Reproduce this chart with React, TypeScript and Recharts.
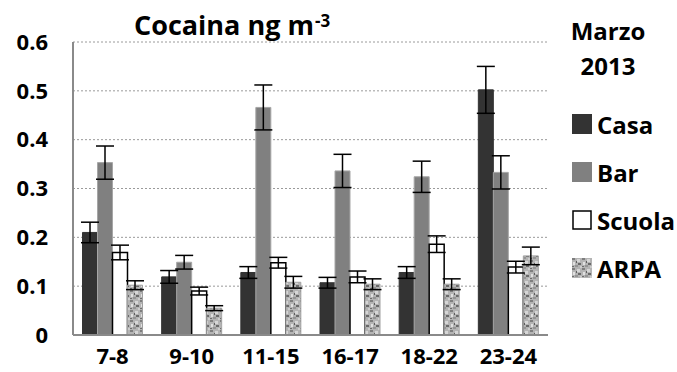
import React from 'react';
import { BarChart, Bar, XAxis, YAxis, CartesianGrid, ErrorBar } from 'recharts';

const categories = ['7-8', '9-10', '11-15', '16-17', '18-22', '23-24'];

const casa = [0.21, 0.119, 0.128, 0.107, 0.128, 0.502];
const casaErr = [0.021, 0.013, 0.012, 0.011, 0.012, 0.048];
const barValues = [0.353, 0.149, 0.466, 0.336, 0.324, 0.333];
const barErr = [0.034, 0.014, 0.046, 0.034, 0.032, 0.034];
const scuola = [0.169, 0.09, 0.148, 0.119, 0.186, 0.139];
const scuolaErr = [0.015, 0.008, 0.011, 0.012, 0.017, 0.012];
const arpa = [0.102, 0.055, 0.108, 0.104, 0.104, 0.162];
const arpaErr = [0.009, 0.005, 0.012, 0.011, 0.011, 0.018];

const yTicks = [0, 0.1, 0.2, 0.3, 0.4, 0.5, 0.6];

const data = categories.map((name, i) => ({
  name,
  casa: casa[i],
  casaErr: casaErr[i],
  bar: barValues[i],
  barErr: barErr[i],
  scuola: scuola[i],
  scuolaErr: scuolaErr[i],
  arpa: arpa[i],
  arpaErr: arpaErr[i],
}));

const series = [
  { key: 'casa', label: 'Casa', fill: '#333333', stroke: '#333333' },
  { key: 'bar', label: 'Bar', fill: '#808080', stroke: '#a6a6a6' },
  { key: 'scuola', label: 'Scuola', fill: '#ffffff', stroke: '#000000' },
  { key: 'arpa', label: 'ARPA', fill: 'url(#arpaTexture)', stroke: '#a0a0a0' },
];

const font = '"Open Sans", Lato, sans-serif';

// marble-ish gray texture for the ARPA bars
const TextureDefs = () => (
  <svg width={0} height={0} style={{ position: 'absolute' }}>
    <defs>
      <pattern id="arpaTexture" width={10} height={10} patternUnits="userSpaceOnUse">
        <rect width={10} height={10} fill="#b4b4b4" />
        <rect x={0} y={0} width={3} height={2} fill="#7e7e7e" />
        <rect x={5} y={1} width={3} height={3} fill="#d6d6d6" />
        <rect x={1} y={4} width={2} height={3} fill="#e0e0e0" />
        <rect x={6} y={5} width={3} height={2} fill="#6a6a6a" />
        <rect x={3} y={7} width={3} height={2} fill="#959595" />
        <rect x={8} y={8} width={2} height={2} fill="#cccccc" />
        <rect x={4} y={3} width={1} height={2} fill="#5e5e5e" />
        <rect x={0} y={8} width={2} height={1} fill="#6e6e6e" />
      </pattern>
    </defs>
  </svg>
);

const App = () => {
  return (
    <div style={{ position: 'absolute', left: 0, top: 0, width: 677, height: 372, background: '#fff', fontFamily: font }}>
      <TextureDefs />
      <BarChart
        width={677}
        height={372}
        data={data}
        margin={{ top: 42, right: 129, bottom: 0, left: 0 }}
        barGap={0}
        barCategoryGap="12%"
      >
        <CartesianGrid vertical={false} stroke="#9a9a9a" strokeDasharray="2 2" />
        <XAxis
          dataKey="name"
          height={37}
          tickLine={false}
          tickSize={0}
          tickMargin={13}
          axisLine={{ stroke: '#8a8a8a', strokeWidth: 2 }}
          tick={{ fill: '#000', fontSize: 22, fontWeight: 700, fontFamily: font }}
          interval={0}
        />
        <YAxis
          width={73}
          domain={[0, 0.6]}
          ticks={yTicks}
          tickFormatter={(v: number) => (v === 0 ? '0' : v.toFixed(1))}
          tickLine={false}
          tickSize={0}
          tickMargin={25}
          axisLine={{ stroke: '#8a8a8a', strokeWidth: 2 }}
          tick={{ fill: '#000', fontSize: 22, fontWeight: 700, fontFamily: font }}
        />
        {series.map((s) => (
          <Bar
            key={s.key}
            dataKey={s.key}
            fill={s.fill}
            stroke={s.stroke}
            strokeWidth={s.key === 'scuola' ? 1.5 : 1}
            isAnimationActive={false}
          >
            <ErrorBar
              dataKey={`${s.key}Err`}
              width={9}
              strokeWidth={1.5}
              stroke="#000"
              direction="y"
              isAnimationActive={false}
            />
          </Bar>
        ))}
      </BarChart>

      <div
        style={{
          position: 'absolute',
          left: 134,
          top: 8,
          fontSize: 27,
          fontWeight: 700,
          color: '#000',
          whiteSpace: 'nowrap',
          lineHeight: '34px',
        }}
      >
        Cocaina ng m
        <sup style={{ fontSize: 17, lineHeight: '17px', verticalAlign: 'top', position: 'relative', top: 4, marginLeft: 1 }}>-3</sup>
      </div>

      <div
        style={{
          position: 'absolute',
          left: 559,
          top: 13,
          width: 98,
          textAlign: 'center',
          fontSize: 24,
          fontWeight: 700,
          lineHeight: '35px',
          color: '#000',
        }}
      >
        Marzo
        <br />
        2013
      </div>

      {series.map((s, i) => (
        <div
          key={s.key}
          style={{
            position: 'absolute',
            left: 572,
            top: 110 + i * 48,
            height: 28,
            display: 'flex',
            alignItems: 'center',
            fontSize: 24,
            fontWeight: 700,
            color: '#000',
            whiteSpace: 'nowrap',
          }}
        >
          <svg width={20} height={20} style={{ marginRight: 5, flexShrink: 0 }}>
            <rect
              x={s.key === 'scuola' ? 1 : 0}
              y={s.key === 'scuola' ? 1 : 0}
              width={s.key === 'scuola' ? 18 : 20}
              height={s.key === 'scuola' ? 18 : 20}
              fill={s.fill}
              stroke={s.key === 'scuola' ? '#000' : 'none'}
              strokeWidth={1.5}
            />
          </svg>
          {s.label}
        </div>
      ))}
    </div>
  );
};

export default App;
